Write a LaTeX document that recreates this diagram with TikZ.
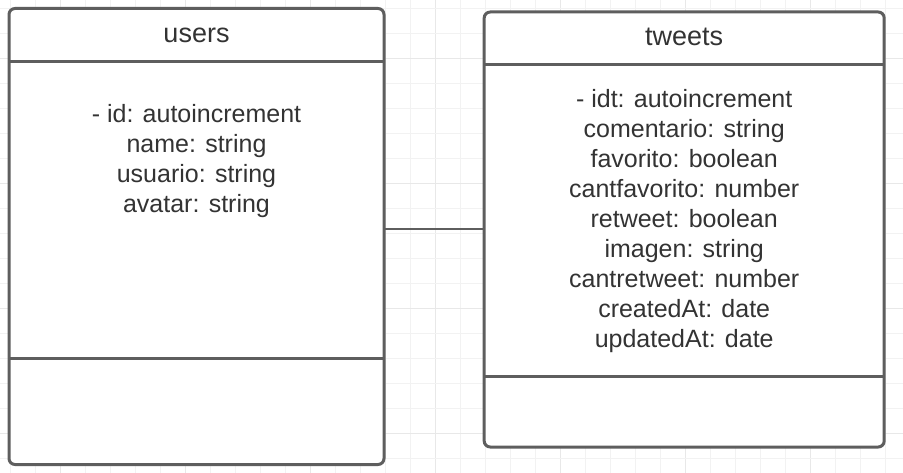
\documentclass[tikz,border=0pt]{standalone}
\usepackage{fontspec}
\setmainfont{Liberation Sans}
\begin{document}
\begin{tikzpicture}[x=1pt,y=-1pt,
  minorgrid/.style={draw=black!5,line width=0.8pt},
  majorgrid/.style={draw=black!9,line width=0.8pt},
  classbox/.style={draw=black!63,line width=3pt,fill=white,rounded corners=6pt,inner sep=0pt,outer sep=0pt},
  divider/.style={draw=black!63,line width=3pt},
  conn/.style={draw=black!63,line width=2pt},
  titletext/.style={anchor=base,text=black!80,font=\fontsize{27}{32}\selectfont,inner sep=0pt},
  attrtext/.style={anchor=base,text=black!80,font=\fontsize{25}{30}\selectfont,inner sep=0pt}]
\useasboundingbox[fill=white] (0,0) rectangle (903,473);
% grid
\foreach \k in {0,...,35}{
  \pgfmathsetmacro{\gx}{10+25*\k}
  \pgfmathtruncatemacro{\m}{mod(\k,5)}
  \ifnum\m=2 \draw[majorgrid] (\gx,0) -- (\gx,473); \else \draw[minorgrid] (\gx,0) -- (\gx,473); \fi
}
\foreach \k in {0,...,18}{
  \pgfmathsetmacro{\gy}{8.5+25*\k}
  \pgfmathtruncatemacro{\m}{mod(\k,5)}
  \ifnum\m=2 \draw[majorgrid] (0,\gy) -- (903,\gy); \else \draw[minorgrid] (0,\gy) -- (903,\gy); \fi
}
% boxes
\node[classbox,minimum width=375pt,minimum height=456pt] (users) at (196.5,236.5) {};
\node[classbox,minimum width=400pt,minimum height=435pt] (tweets) at (684.2,229.5) {};
% dividers
\coordinate (uh) at (0,61.7);
\coordinate (ub) at (0,358);
\coordinate (th) at (0,64.3);
\coordinate (tb) at (0,376);
\draw[divider] (users.west |- uh) -- (users.east |- uh);
\draw[divider] (users.west |- ub) -- (users.east |- ub);
\draw[divider] (tweets.west |- th) -- (tweets.east |- th);
\draw[divider] (tweets.west |- tb) -- (tweets.east |- tb);
% connector
\coordinate (cy) at (0,229.3);
\draw[conn] (users.east |- cy) -- (tweets.west |- cy);
% texts
\node[titletext] (usersTitle) at (196.5,42.5) {users};
\node[titletext] (tweetsTitle) at (684.2,45.5) {tweets};
\foreach \t [count=\i from 0] in {- id: autoincrement,name: string,usuario: string,avatar: string}{
  \node[attrtext] (ua\i) at (196.5,122.2+30*\i) {\t};
}
\foreach \t [count=\i from 0] in {- idt: autoincrement,comentario: string,favorito: boolean,cantfavorito: number,retweet: boolean,imagen: string,cantretweet: number,createdAt: date,updatedAt: date}{
  \node[attrtext] (ta\i) at (684.2,107.2+30*\i) {\t};
}
\end{tikzpicture}
\end{document}
